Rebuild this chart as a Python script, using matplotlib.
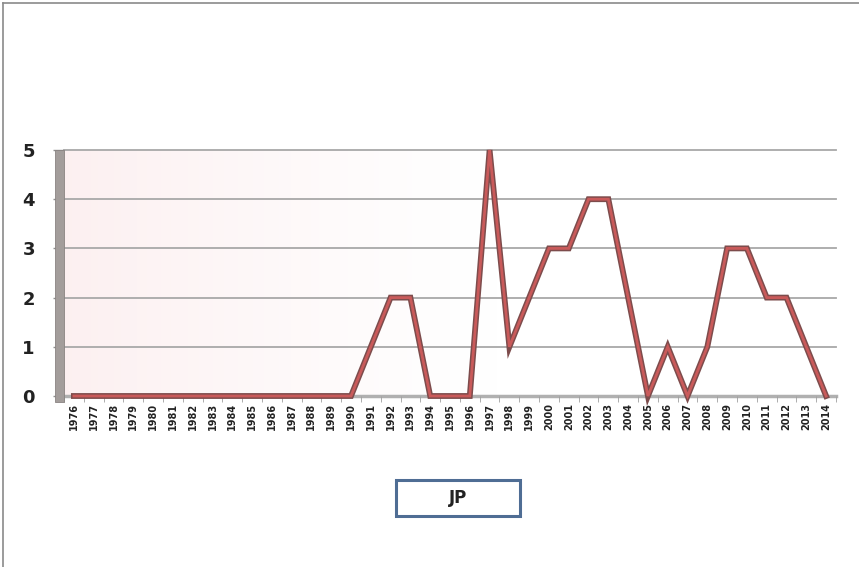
import matplotlib.pyplot as plt
import matplotlib.patheffects as pe
from matplotlib.patches import Rectangle
from matplotlib.lines import Line2D
import numpy as np

years = list(range(1976, 2015))
counts = [0, 0, 0, 0, 0, 0, 0, 0, 0, 0, 0, 0, 0, 0, 0,
          1, 2, 2, 0, 0, 0, 5, 1, 2, 3, 3, 4, 4, 2, 0,
          1, 0, 1, 3, 3, 2, 2, 1, 0]
series_name = 'JP'

W, H = 859, 567
fig = plt.figure(figsize=(W / 100, H / 100), dpi=100)
fig.patch.set_facecolor('white')

# plot area in pixel terms
x0, x1, ytop, ybot = 64, 836, 150, 396
ax = fig.add_axes([x0 / W, 1 - ybot / H, (x1 - x0) / W, (ybot - ytop) / H])
ax.set_facecolor('none')

xs = np.arange(len(years))
xlo, xhi = -0.1, len(years) - 1 + 0.2

# faint pink wash fading out to the right
fade = np.linspace(0, 1, 400)
rgba = np.zeros((1, 400, 4))
rgba[..., 0] = 0.98
rgba[..., 1] = 0.86
rgba[..., 2] = 0.87
rgba[..., 3] = 0.45 * np.clip(1 - fade, 0, 1) ** 1.3
ax.imshow(rgba, extent=(-1.5, 22, 0, 5), aspect='auto', zorder=0, interpolation='bilinear')

ax.set_xlim(xlo, xhi)
ax.set_ylim(0, 5)

for v in range(1, 6):
    ax.axhline(v, color='#a8a8a8', lw=1.3, zorder=1, clip_on=False)
ax.axhline(0, color='#b0b0b0', lw=2.5, zorder=1, clip_on=False)

line, = ax.plot(xs, counts, color='#c95a5a', lw=2.0, zorder=3,
                solid_joinstyle='miter', clip_on=False)
line.set_path_effects([pe.Stroke(linewidth=4.2, foreground='#7d4c4c'), pe.Normal()])

for s in ax.spines.values():
    s.set_visible(False)

ax.set_yticks(range(6))
ax.set_yticklabels([str(v) for v in range(6)], fontsize=13, fontweight='bold', color='#222222')
ax.tick_params(axis='y', length=8, width=1, color='#909090', pad=13)

ax.set_xticks(xs)
ax.set_xticklabels([str(y) for y in years], rotation=90, fontsize=7,
                   fontweight='bold', color='#222222')
ax.tick_params(axis='x', length=0, pad=5)
ax.set_xticks(np.arange(-0.5, len(years), 1.0), minor=True)
ax.tick_params(axis='x', which='minor', length=4, color='#a0a0a0')

# grey side wall
fig.patches.append(Rectangle((55 / W, 1 - 402 / H), 9 / W, 252 / H,
                             transform=fig.transFigure, facecolor='#a39d9b',
                             edgecolor='#8a8482', lw=0.6, zorder=5))

# series name box
fig.patches.append(Rectangle((396 / W, 1 - 516 / H), 124 / W, 36 / H,
                             transform=fig.transFigure, facecolor='white',
                             edgecolor='#4f6d94', lw=2.2, zorder=5))
fig.text(458 / W, 1 - 498 / H, series_name, ha='center', va='center',
         fontsize=12, fontweight='bold', color='#222222', zorder=6)

# outer frame (left and top edges)
fig.lines.append(Line2D([3 / W, 3 / W], [0, 1 - 3 / H], transform=fig.transFigure,
                        color='#8a8a8a', lw=1.2))
fig.lines.append(Line2D([3 / W, 1], [1 - 3 / H, 1 - 3 / H], transform=fig.transFigure,
                        color='#8a8a8a', lw=1.2))

plt.savefig('out.png', dpi=100)
